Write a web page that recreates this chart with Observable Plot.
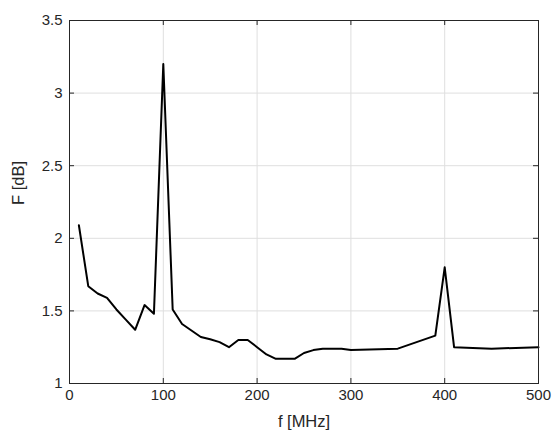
<!DOCTYPE html>
<html><head><meta charset="utf-8">
<script src="https://cdn.jsdelivr.net/npm/d3@7"></script>
<script src="https://cdn.jsdelivr.net/npm/@observablehq/plot@0.6"></script>
<style>body{margin:0;background:#fff}</style></head>
<body><div id="chart"></div>
<script>
const freqMHz = [10,20,30,40,50,60,70,80,90,100,110,120,130,140,150,160,170,180,190,200,210,220,230,240,250,260,270,280,290,300,350,390,400,410,450,500];
const noiseFigureDb = [2.09,1.67,1.62,1.59,1.51,1.44,1.37,1.54,1.48,3.2,1.51,1.41,1.365,1.32,1.305,1.285,1.25,1.30,1.30,1.25,1.20,1.17,1.17,1.17,1.21,1.23,1.24,1.24,1.24,1.23,1.24,1.33,1.80,1.25,1.24,1.25];
const xTicks = [0,100,200,300,400,500];
const yTicks = [1,1.5,2,2.5,3,3.5];
const xLabel = "f [MHz]";
const yLabel = "F [dB]";

const W = 552, H = 437, mL = 69, mR = 14, mT = 20, mB = 54;
const innerH = H - mT - mB, innerW = W - mL - mR;
const data = freqMHz.map((f, i) => ({f, nf: noiseFigureDb[i]}));
const axisColor = "#262626";
const gridColor = "#dfdfdf";

const chart = Plot.plot({
  width: W, height: H,
  marginLeft: mL, marginRight: mR, marginTop: mT, marginBottom: mB,
  style: {fontFamily: "'Liberation Sans', Arial, sans-serif", fontSize: "15px", background: "#fff", color: axisColor},
  x: {domain: [0, 500], label: null},
  y: {domain: [1, 3.5], label: null},
  marks: [
    Plot.gridX(xTicks, {stroke: gridColor, strokeOpacity: 1}),
    Plot.gridY(yTicks, {stroke: gridColor, strokeOpacity: 1}),
    Plot.line(data, {x: "f", y: "nf", stroke: "#000", strokeWidth: 2}),
    Plot.tickX(xTicks, {x: d => d, stroke: axisColor, insetTop: innerH - 5}),
    Plot.tickX(xTicks, {x: d => d, stroke: axisColor, insetBottom: innerH - 5}),
    Plot.tickY(yTicks, {y: d => d, stroke: axisColor, insetRight: innerW - 5}),
    Plot.tickY(yTicks, {y: d => d, stroke: axisColor, insetLeft: innerW - 5}),
    Plot.frame({stroke: axisColor}),
    Plot.axisX(xTicks, {tickSize: 0, tickPadding: 6, label: null, tickFormat: d => String(d)}),
    Plot.axisY(yTicks, {tickSize: 0, tickPadding: 7, label: null, tickFormat: d => String(d)}),
    Plot.text([xLabel], {text: d => d, frameAnchor: "bottom", lineAnchor: "top", dy: 32, fontSize: 16.5}),
    Plot.text([yLabel], {text: d => d, frameAnchor: "left", rotate: -90, dx: -51, dy: 3, fontSize: 16.5})
  ]
});
document.getElementById("chart").appendChild(chart);
</script>
</body></html>
